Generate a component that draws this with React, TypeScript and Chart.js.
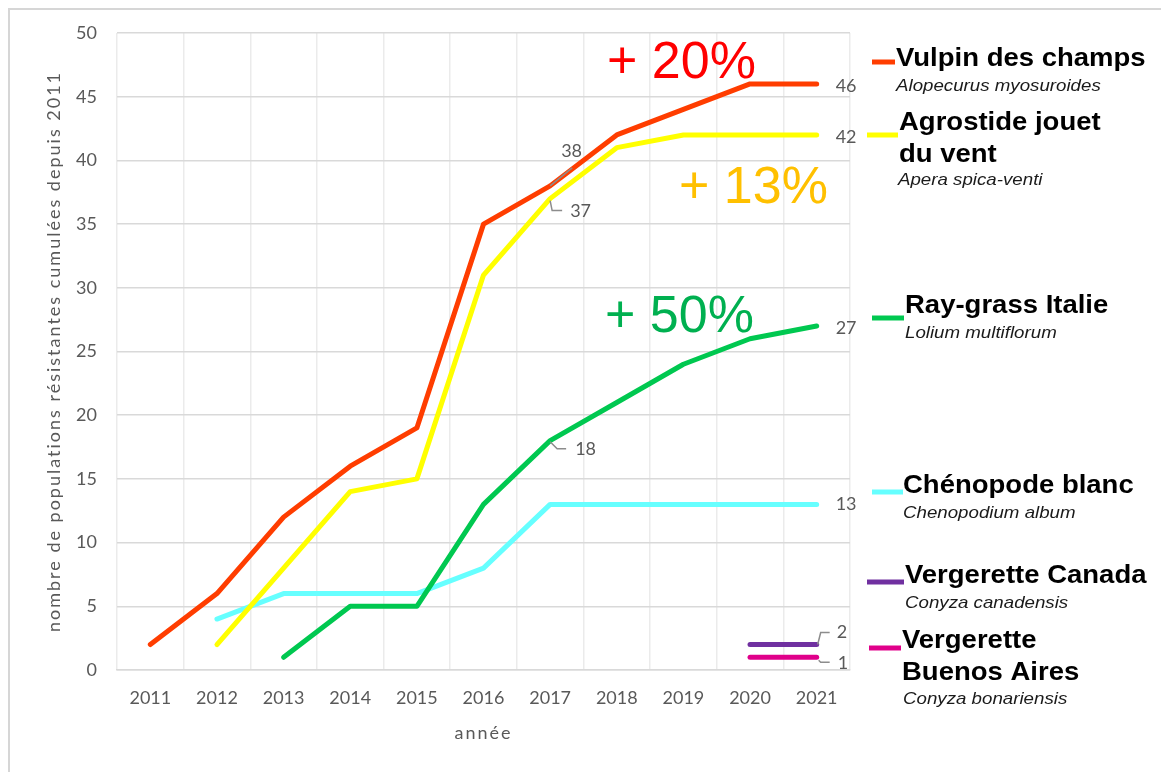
import React, { useEffect, useRef } from "react";
import { Chart, registerables } from "chart.js";

Chart.register(...registerables);

// ---------- data ----------
const years = ["2011", "2012", "2013", "2014", "2015", "2016", "2017", "2018", "2019", "2020", "2021"];
const vulpin = [2, 6, 12, 16, 19, 35, 38, 42, 44, 46, 46];
const agrostide = [null, 2, 8, 14, 15, 31, 37, 41, 42, 42, 42];
const raygrass = [null, null, 1, 5, 5, 13, 18, 21, 24, 26, 27];
const chenopode = [null, 4, 6, 6, 6, 8, 13, 13, 13, 13, 13];
const vergCanada = [null, null, null, null, null, null, null, null, null, 2, 2];
const vergBuenos = [null, null, null, null, null, null, null, null, null, 1, 1];

const seriesNames = [
  "Vulpin des champs",
  "Agrostide jouet du vent",
  "Ray-grass Italie",
  "Chénopode blanc",
  "Vergerette Canada",
  "Vergerette Buenos Aires",
];
const seriesColors = ["#FF3D00", "#FFFF00", "#00C850", "#66FFFF", "#7030A0", "#E0008A"];

const yTitle = "nombre de populations résistantes cumulées depuis 2011";
const xTitle = "année";

// legend texts (bold lines, italic latin name)
const legendBold = [
  ["Vulpin des champs"],
  ["Agrostide jouet", "du vent"],
  ["Ray-grass Italie"],
  ["Chénopode blanc"],
  ["Vergerette Canada"],
  ["Vergerette", "Buenos Aires"],
];
const legendItalic = [
  "Alopecurus myosuroides",
  "Apera spica-venti",
  "Lolium multiflorum",
  "Chenopodium album",
  "Conyza canadensis",
  "Conyza bonariensis",
];

const growthTexts = ["+ 20%", "+ 13%", "+ 50%"];
const growthColors = ["#FF0000", "#FFC000", "#00B050"];

// ---------- layout / style (canvas px) ----------
const W = 1161;
const H = 764;
const AXIS_FONT = "Lato";
const AXIS_COLOR = "#595959";

// legend layout: sample line x0,x1,y ; text x ; bold baselines ; italic x, baseline
const legendLayout = [
  { sx0: 864, sx1: 887, sy: 54, tx: 888, bold: [58], ix: 888, iy: 83 },
  { sx0: 859, sx1: 890, sy: 127, tx: 891, bold: [122, 154], ix: 890, iy: 177 },
  { sx0: 864, sx1: 896, sy: 310, tx: 897, bold: [305], ix: 897, iy: 330 },
  { sx0: 864, sx1: 895, sy: 484, tx: 895, bold: [485], ix: 895, iy: 510 },
  { sx0: 859, sx1: 896, sy: 574, tx: 897, bold: [575], ix: 897, iy: 600 },
  { sx0: 861, sx1: 893, sy: 640, tx: 894, bold: [640, 672], ix: 895, iy: 696 },
];
const growthLayout = [
  { x: 599, y: 70 },
  { x: 671, y: 195 },
  { x: 597, y: 324 },
];
const yTitleX = 46;
const xTitleY = 725;

// data labels: dataset, index, offsets relative to point, leader polyline
const dataLabels = [
  { ds: 0, i: 10, dx: 19, dy: 2, leader: null },
  { ds: 1, i: 10, dx: 19, dy: 2, leader: null },
  { ds: 2, i: 10, dx: 19, dy: 2, leader: null },
  { ds: 3, i: 10, dx: 19, dy: 0, leader: null },
  { ds: 0, i: 6, dx: 11, dy: -35, leader: [[0, 0], [22, -18]] },
  { ds: 1, i: 6, dx: 20, dy: 13, leader: [[0, 2], [2, 12], [12, 12]] },
  { ds: 2, i: 6, dx: 25, dy: 9, leader: [[0, 1], [7, 8], [16, 8]] },
  { ds: 4, i: 10, dx: 20, dy: -12, leader: [[1, 0], [4, -12], [13, -12]] },
  { ds: 5, i: 10, dx: 21, dy: 6, leader: [[2, 3], [4, 5], [13, 5]] },
];

const overlayPlugin = {
  id: "overlay",
  beforeDraw(chart: any) {
    const ctx = chart.ctx;
    ctx.save();
    ctx.fillStyle = "#ffffff";
    ctx.fillRect(0, 0, chart.width, chart.height);
    ctx.strokeStyle = "#d6d6d6";
    ctx.lineWidth = 2;
    ctx.beginPath();
    ctx.moveTo(1, H);
    ctx.lineTo(1, 1);
    ctx.lineTo(W, 1);
    ctx.stroke();
    ctx.restore();
  },
  afterDatasetsDraw(chart: any) {
    const ctx = chart.ctx;
    const area = chart.chartArea;
    ctx.save();

    // axis titles
    ctx.fillStyle = AXIS_COLOR;
    ctx.font = `18px ${AXIS_FONT}`;
    ctx.textAlign = "center";
    ctx.textBaseline = "middle";
    (ctx as any).letterSpacing = "2px";
    ctx.save();
    ctx.translate(yTitleX, (area.top + area.bottom) / 2);
    ctx.rotate(-Math.PI / 2);
    ctx.fillText(yTitle, 0, 0);
    ctx.restore();
    ctx.fillText(xTitle, (area.left + area.right) / 2, xTitleY);
    (ctx as any).letterSpacing = "0px";

    // data labels
    ctx.font = `18px ${AXIS_FONT}`;
    ctx.fillStyle = AXIS_COLOR;
    ctx.textBaseline = "middle";
    ctx.textAlign = "left";
    dataLabels.forEach((d) => {
      const meta = chart.getDatasetMeta(d.ds);
      const p = meta.data[d.i];
      if (!p) return;
      const v = chart.data.datasets[d.ds].data[d.i];
      if (d.leader) {
        ctx.strokeStyle = "#8c8c8c";
        ctx.lineWidth = 1.5;
        ctx.beginPath();
        d.leader.forEach((pt: number[], k: number) => {
          if (k === 0) ctx.moveTo(p.x + pt[0], p.y + pt[1]);
          else ctx.lineTo(p.x + pt[0], p.y + pt[1]);
        });
        ctx.stroke();
      }
      ctx.fillText(String(v), p.x + d.dx, p.y + d.dy);
    });

    // growth annotations
    ctx.textBaseline = "alphabetic";
    ctx.font = "52px 'Liberation Sans', Arial, sans-serif";
    growthTexts.forEach((t, k) => {
      ctx.fillStyle = growthColors[k];
      ctx.fillText(t, growthLayout[k].x, growthLayout[k].y);
    });

    // legend
    legendLayout.forEach((l, k) => {
      ctx.strokeStyle = seriesColors[k];
      ctx.lineWidth = 5;
      ctx.lineCap = "butt";
      ctx.beginPath();
      ctx.moveTo(l.sx0, l.sy);
      ctx.lineTo(l.sx1, l.sy);
      ctx.stroke();
      ctx.fillStyle = "#000000";
      legendBold[k].forEach((line, j) => {
        ctx.save();
        ctx.translate(l.tx, l.bold[j]);
        ctx.scale(1.1, 1);
        ctx.font = "bold 25px 'Liberation Sans', Arial, sans-serif";
        ctx.fillText(line, 0, 0);
        ctx.restore();
      });
      ctx.save();
      ctx.translate(l.ix, l.iy);
      ctx.scale(1.1, 1);
      ctx.font = "italic 17px 'Liberation Sans', Arial, sans-serif";
      ctx.fillStyle = "#1a1a1a";
      ctx.fillText(legendItalic[k], 0, 0);
      ctx.restore();
    });
    ctx.restore();
  },
};

export default function App() {
  const ref = useRef<HTMLCanvasElement>(null);

  useEffect(() => {
    if (!ref.current) return;
    const series = [vulpin, agrostide, raygrass, chenopode, vergCanada, vergBuenos];
    const chart = new Chart(ref.current, {
      type: "line",
      data: {
        labels: years,
        datasets: series.map((d, k) => ({
          label: seriesNames[k],
          data: d,
          borderColor: seriesColors[k],
          backgroundColor: seriesColors[k],
          borderWidth: 5,
          pointRadius: 0,
          pointHoverRadius: 0,
          tension: 0,
          spanGaps: false,
          borderCapStyle: "round",
          borderJoinStyle: "round",
          fill: false,
        })),
      },
      options: {
        responsive: false,
        animation: false,
        devicePixelRatio: 1,
        layout: { padding: { top: 25, right: 319, left: 0, bottom: 0 } },
        plugins: {
          legend: { display: false },
          tooltip: { enabled: false },
        },
        scales: {
          x: {
            type: "category",
            offset: true,
            grid: {
              offset: true,
              color: "#ebebeb",
              lineWidth: 1.5,
              drawTicks: false,
            },
            border: { display: true, color: "#d9d9d9", width: 1.5 },
            ticks: {
              color: AXIS_COLOR,
              font: { family: AXIS_FONT, size: 18 },
              padding: 17,
              maxRotation: 0,
              autoSkip: false,
            },
            title: { display: false },
            afterFit: (s: any) => {
              s.height = 102;
            },
          },
          y: {
            min: 0,
            max: 50,
            ticks: {
              stepSize: 5,
              color: AXIS_COLOR,
              font: { family: AXIS_FONT, size: 18 },
              padding: 0,
            },
            grid: {
              color: "#d9d9d9",
              lineWidth: 1.5,
              drawTicks: true,
              tickLength: 20,
              tickColor: "rgba(0,0,0,0)",
            },
            border: { display: false },
            title: { display: false },
            afterFit: (s: any) => {
              s.width = 109;
            },
          },
        },
      },
      plugins: [overlayPlugin],
    });
    return () => chart.destroy();
  }, []);

  return (
    <div style={{ width: W, height: H }}>
      <canvas ref={ref} width={W} height={H} style={{ display: "block", width: W, height: H }} />
    </div>
  );
}
